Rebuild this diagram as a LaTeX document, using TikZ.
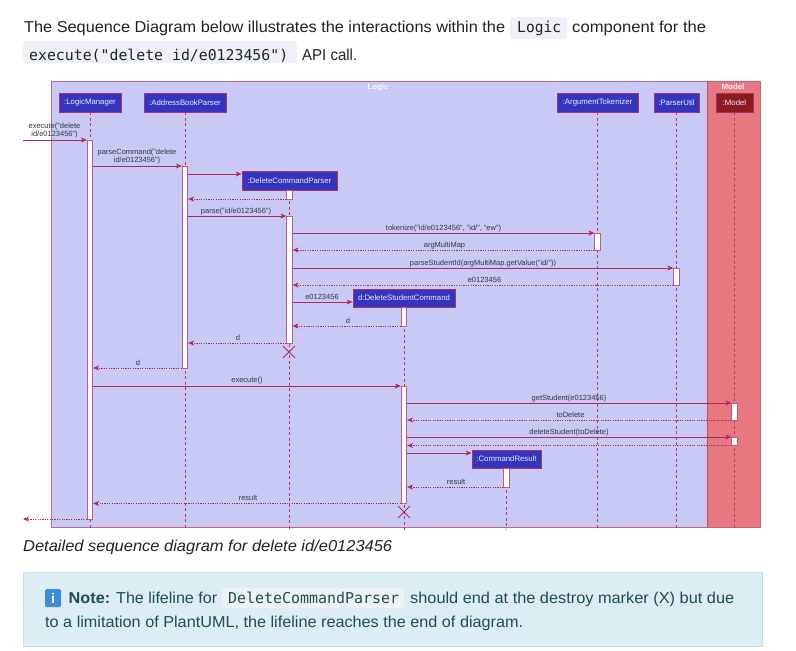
\documentclass[tikz,border=0pt]{standalone}
\usepackage{fontspec}
\setmainfont{Liberation Sans}
\setmonofont{DejaVu Sans Mono}
\usetikzlibrary{arrows.meta,calc,shapes.misc}
\definecolor{logicfill}{HTML}{C8CAF5}
\definecolor{modelfill}{HTML}{E8787F}
\definecolor{framestroke}{HTML}{C46A92}
\definecolor{modelstroke}{HTML}{C9607E}
\definecolor{partfill}{HTML}{3434BF}
\definecolor{partstroke}{HTML}{A8336B}
\definecolor{modelpart}{HTML}{8E1A1E}
\definecolor{msgcol}{HTML}{AD2A5A}
\definecolor{lifecol}{HTML}{B03A68}
\definecolor{barstroke}{HTML}{C35C84}
\definecolor{labelcol}{HTML}{333344}
\definecolor{pagetext}{HTML}{1F2328}
\definecolor{codebg}{HTML}{EFF0F8}
\definecolor{notefill}{HTML}{DCEEF3}
\definecolor{notestroke}{HTML}{BEE0E8}
\definecolor{notetext}{HTML}{1D4D59}
\definecolor{notecode}{HTML}{EEF2F8}
\definecolor{infoblue}{HTML}{3A8DDB}
\newcommand\hfit[2]{\resizebox{#1}{\height}{#2}}
\newcommand\actbar[4]{\node[abar, minimum height={(#4)-(#3)}] (#1) at ($(#2 |- 0,#3)!0.5!(#2 |- 0,#4)$) {};}
\tikzset{
  part/.style={draw=partstroke, line width=0.8pt, fill=partfill, text=white!92!blue,
    font=\fontsize{7.8}{9}\selectfont, inner sep=0, minimum height=19pt},
  abar/.style={draw=barstroke, fill=white, line width=0.8pt, minimum width=5.5pt, inner sep=0},
  lifeline/.style={draw=lifecol, line width=0.7pt, dash pattern=on 3pt off 2.5pt},
  msg/.style={draw=msgcol, line width=0.8pt, -{Stealth[length=6pt,width=5pt,inset=1.8pt]}},
  ret/.style={msg, dash pattern=on 1.2pt off 1.2pt},
  lbl/.style={font=\fontsize{7.5}{8.7}\selectfont, text=labelcol, inner sep=0, anchor=base},
  lbl2/.style={font=\fontsize{7.5}{8.7}\selectfont, text=labelcol, inner sep=0, anchor=south, align=center},
  destroyx/.style={draw=msgcol, cross out, line width=0.9pt, minimum size=11pt, inner sep=0},
  pg/.style={font=\fontsize{15.8}{18}\selectfont, text=pagetext, inner sep=0, anchor=base west},
  pgcode/.style={font=\ttfamily\fontsize{14.9}{18}\selectfont, text=pagetext, inner sep=0, anchor=base west},
  nt/.style={font=\fontsize{15.8}{18}\selectfont, text=notetext, inner sep=0, anchor=base west},
  ntcode/.style={font=\ttfamily\fontsize{15}{18}\selectfont, text=notetext, inner sep=0, anchor=base west},
  ftitle/.style={font=\bfseries\fontsize{7.8}{9}\selectfont, inner sep=0}
}
\begin{document}
\begin{tikzpicture}[x=1pt,y=-1pt]
\useasboundingbox (0,0) rectangle (796,651);
\fill[white] (0,0) rectangle (796,651);

% ---------- page text above ----------
\node[pg] (t1) at (24,32) {\hfit{481pt}{The Sequence Diagram below illustrates the interactions within the}};
\fill[codebg, rounded corners=3pt] (510,17) rectangle (567,39);
\node[pgcode] (t2) at (517,32) {\hfit{44pt}{Logic}};
\node[pg] (t3) at (572,32) {\hfit{134pt}{component for the}};
\fill[codebg, rounded corners=3pt] (23,41) rectangle (297,63);
\node[pgcode] (t4) at (29,60) {\hfit{259pt}{execute("delete id/e0123456")}};
\node[pg] (t5) at (302,60) {\hfit{55pt}{API call.}};

% ---------- frames ----------
\draw[fill=logicfill, draw=framestroke, line width=1pt] (51.5,81) rectangle (707,527);
\draw[fill=modelfill, draw=modelstroke, line width=1pt] (707,81) rectangle (760,527);
\draw[draw=modelstroke!85!black, line width=1.6pt] (707.5,81) -- (707.5,527);
\node[ftitle, text=white!88!logicfill] (logict) at (378,87) {Logic};
\node[ftitle, text=white!92!modelfill] (modelt) at (733,87) {Model};

% ---------- participants ----------
\node[part, minimum width=62pt] (lm) at (90,102.5) {:LogicManager};
\node[part, minimum width=82pt] (abp) at (185,102.5) {:AddressBookParser};
\node[part, minimum width=95pt] (dcp) at (289.5,180.5) {:DeleteCommandParser};
\node[part, minimum width=81pt] (at) at (597.5,102.5) {:ArgumentTokenizer};
\node[part, minimum width=45pt] (pu) at (676.5,102.5) {:ParserUtil};
\node[part, fill=modelpart, minimum width=37pt] (model) at (734.5,102.5) {:Model};
\node[part, minimum width=102pt, minimum height=18pt] (dsc) at (404,298) {d:DeleteStudentCommand};
\node[part, minimum width=69pt, minimum height=18pt] (cr) at (506.5,459) {:CommandResult};

% ---------- lifelines ----------
\foreach \p in {lm,abp,dcp,at,pu,model,dsc,cr}
  \draw[lifeline] (\p.south) -- (\p.south |- 0,530);

% ---------- activation bars ----------
\actbar{aLM}{lm}{140}{519}
\actbar{aABP}{abp}{166}{368}
\actbar{aDCPa}{dcp}{190}{199}
\actbar{aDCPb}{dcp}{216}{343}
\actbar{aAT}{at}{233}{250}
\actbar{aPU}{pu}{268}{285}
\actbar{aDSCa}{dsc}{307}{326}
\actbar{aDSCb}{dsc}{386}{503.5}
\actbar{aMa}{model}{403}{420}
\actbar{aMb}{model}{437}{445.5}
\actbar{aCR}{cr}{468}{487}

% ---------- messages ----------
\coordinate (inStart) at (23,140);
\coordinate (outEnd) at (23,519);
\draw[msg] (inStart) -- (aLM.west |- 0,140);
\node[lbl2] (l1) at (54.5,138.5) {execute("delete\\id/e0123456")};
\draw[msg] (aLM.east |- 0,166) -- (aABP.west |- 0,166);
\node[lbl2] (l2) at (137,164.5) {parseCommand("delete\\id/e0123456")};
\draw[msg] (aABP.east |- 0,174) -- (dcp.west |- 0,174);
\draw[ret] (aDCPa.west |- 0,199) -- (aABP.east |- 0,199);
\draw[msg] (aABP.east |- 0,216) -- (aDCPb.west |- 0,216);
\node[lbl] (l3) at (236,213) {parse("id/e0123456")};
\draw[msg] (aDCPb.east |- 0,233) -- (aAT.west |- 0,233);
\node[lbl] (l4) at (443.5,230) {tokenize("id/e0123456", "id/", "ew")};
\draw[ret] (aAT.west |- 0,250) -- (aDCPb.east |- 0,250);
\node[lbl] (l5) at (444.5,247) {argMultiMap};
\draw[msg] (aDCPb.east |- 0,268) -- (aPU.west |- 0,268);
\node[lbl] (l6) at (483,265) {parseStudentId(argMultiMap.getValue("id/"))};
\draw[ret] (aPU.west |- 0,285) -- (aDCPb.east |- 0,285);
\node[lbl] (l7) at (484.5,282) {e0123456};
\draw[msg] (aDCPb.east |- 0,302) -- (dsc.west |- 0,302);
\node[lbl] (l8) at (322,299.5) {e0123456};
\draw[ret] (aDSCa.west |- 0,326) -- (aDCPb.east |- 0,326);
\node[lbl] (l9) at (348,323) {d};
\draw[ret] (aDCPb.west |- 0,343) -- (aABP.east |- 0,343);
\node[lbl] (l10) at (238,340) {d};
\node[destroyx] (x1) at (289,352) {};
\draw[ret] (aABP.west |- 0,368) -- (aLM.east |- 0,368);
\node[lbl] (l11) at (138,365) {d};
\draw[msg] (aLM.east |- 0,386) -- (aDSCb.west |- 0,386);
\node[lbl] (l12) at (247,382.5) {execute()};
\draw[msg] (aDSCb.east |- 0,403) -- (aMa.west |- 0,403);
\node[lbl] (l13) at (569,400) {getStudent(e0123456)};
\draw[ret] (aMa.west |- 0,420) -- (aDSCb.east |- 0,420);
\node[lbl] (l14) at (570.5,417) {toDelete};
\draw[msg] (aDSCb.east |- 0,437) -- (aMb.west |- 0,437);
\node[lbl] (l15) at (569,434) {deleteStudent(toDelete)};
\draw[ret] (aMb.west |- 0,445.5) -- (aDSCb.east |- 0,445.5);
\draw[msg] (aDSCb.east |- 0,453) -- (cr.west |- 0,453);
\draw[ret] (aCR.west |- 0,487) -- (aDSCb.east |- 0,487);
\node[lbl] (l16) at (456,484) {result};
\draw[ret] (aDSCb.west |- 0,503.5) -- (aLM.east |- 0,503.5);
\node[lbl] (l17) at (248,500.5) {result};
\node[destroyx] (x2) at (404,512) {};
\draw[ret] (aLM.west |- 0,519) -- (outEnd);

% ---------- caption and note ----------
\node[pg, font=\itshape\fontsize{15.8}{18}\selectfont] (cap) at (23,551) {\hfit{369pt}{Detailed sequence diagram for delete id/e0123456}};
\draw[fill=notefill, draw=notestroke, line width=0.8pt] (23,572) rectangle (762,646);
\node[fill=infoblue, rounded corners=1.5pt, minimum width=16pt, minimum height=18pt, inner sep=0,
      text=white, font=\bfseries\fontsize{14}{16}\selectfont] (info) at (53,598) {i};
\node[nt, font=\bfseries\fontsize{15.8}{18}\selectfont] (n1) at (68.5,603) {\hfit{41.5pt}{Note:}};
\node[nt] (n2) at (116,603) {\hfit{101pt}{The lifeline for}};
\fill[notecode, rounded corners=3pt] (222,588) rectangle (404,608);
\node[ntcode] (n3) at (228,603) {\hfit{171pt}{DeleteCommandParser}};
\node[nt] (n4) at (410,603) {\hfit{324pt}{should end at the destroy marker (X) but due}};
\node[nt] (n5) at (45,627) {\hfit{478pt}{to a limitation of PlantUML, the lifeline reaches the end of diagram.}};
\end{tikzpicture}
\end{document}
